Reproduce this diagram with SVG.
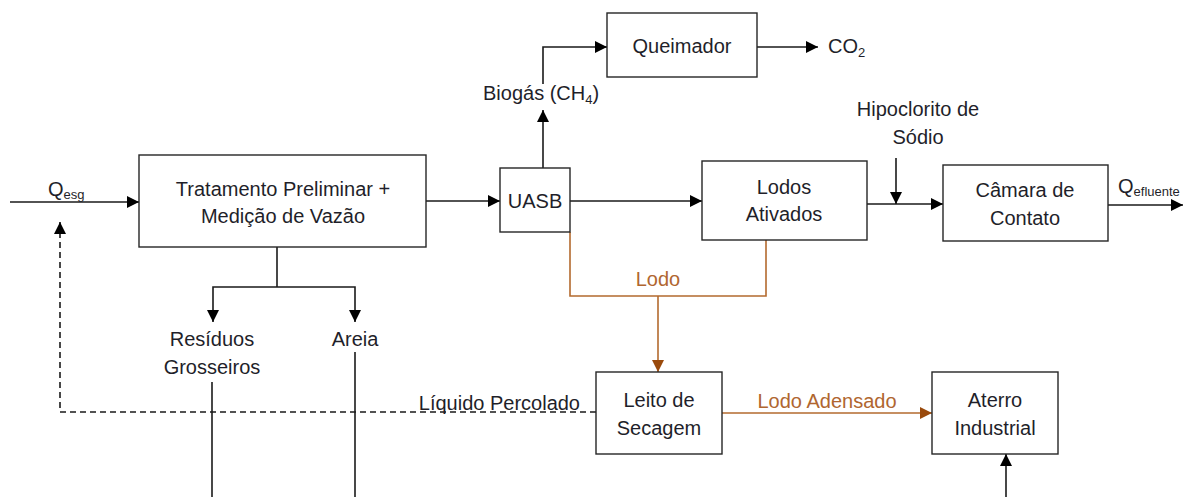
<svg xmlns="http://www.w3.org/2000/svg" width="1188" height="497" viewBox="0 0 1188 497">
<style>
.box{fill:#fff;stroke:#262626;stroke-width:1.4}
.t{font-family:"Liberation Sans",Arial,sans-serif;font-size:20px;fill:#1f1f2a;text-anchor:middle}
.o{fill:#b0662f}
.s{font-size:13px}
.c{fill:none;stroke:#1a1a1a;stroke-width:1.6}
.d{stroke-dasharray:6,4}
.br{fill:none;stroke:#b36a2e;stroke-width:1.6}
</style>
<defs>
<marker id="ak" markerUnits="userSpaceOnUse" markerWidth="12" markerHeight="12" viewBox="0 0 12 12" refX="12" refY="6" orient="auto">
<path d="M0,0 L12,6 L0,12 z" fill="#000"/>
</marker>
<marker id="ao" markerUnits="userSpaceOnUse" markerWidth="12" markerHeight="12" viewBox="0 0 12 12" refX="12" refY="6" orient="auto">
<path d="M0,0 L12,6 L0,12 z" fill="#9a4a0c"/>
</marker>
</defs>
<g id="connectors">
<path class="c" d="M10,202 H139" marker-end="url(#ak)"/>
<path class="c d" d="M596,412 H60 V222" marker-end="url(#ak)"/>
<path class="c" d="M426,201 H500" marker-end="url(#ak)"/>
<path class="c" d="M570,201 H702" marker-end="url(#ak)"/>
<path class="c" d="M867,204 H943" marker-end="url(#ak)"/>
<path class="c" d="M896,158 V204" marker-end="url(#ak)"/>
<path class="c" d="M1108,205 H1183" marker-end="url(#ak)"/>
<path class="c" d="M543,168 V110" marker-end="url(#ak)"/>
<path class="c" d="M543,84 V47 H607" marker-end="url(#ak)"/>
<path class="c" d="M757,47 H818" marker-end="url(#ak)"/>
<path class="c" d="M277,247 V287"/>
<path class="c" d="M277,287 H213 V322" marker-end="url(#ak)"/>
<path class="c" d="M277,287 H355 V322" marker-end="url(#ak)"/>
<path class="c" d="M212,382 V497"/>
<path class="c" d="M355,352 V497"/>
<path class="br" d="M570,232 V296 H766 V240"/>
<path class="br" d="M658,296 V372" marker-end="url(#ao)"/>
<path class="br" d="M722,413 H932" marker-end="url(#ao)"/>
<path class="c" d="M1006,497 V454" marker-end="url(#ak)"/>
</g>
<g id="tratamento">
<rect class="box" x="139" y="155" width="287" height="92"/>
<text class="t" x="283" y="196">Tratamento Preliminar +</text>
<text class="t" x="283" y="223">Medição de Vazão</text>
</g>
<g id="uasb">
<rect class="box" x="500" y="168" width="70" height="64"/>
<text class="t" x="535" y="208">UASB</text>
</g>
<g id="lodos-ativados">
<rect class="box" x="702" y="161" width="165" height="79"/>
<text class="t" x="784" y="194">Lodos</text>
<text class="t" x="784" y="221">Ativados</text>
</g>
<g id="camara">
<rect class="box" x="943" y="165" width="165" height="76"/>
<text class="t" x="1025" y="197">Câmara de</text>
<text class="t" x="1025" y="225">Contato</text>
</g>
<g id="queimador">
<rect class="box" x="607" y="13" width="150" height="64"/>
<text class="t" x="682" y="53">Queimador</text>
</g>
<g id="leito">
<rect class="box" x="596" y="372" width="126" height="82"/>
<text class="t" x="659" y="407">Leito de</text>
<text class="t" x="659" y="435">Secagem</text>
</g>
<g id="aterro">
<rect class="box" x="932" y="372" width="126" height="82"/>
<text class="t" x="995" y="407">Aterro</text>
<text class="t" x="995" y="435">Industrial</text>
</g>
<g id="labels">
<text class="t" x="48" y="196" style="text-anchor:start">Q<tspan class="s" dy="3">esg</tspan></text>
<text class="t" x="1118" y="193" style="text-anchor:start">Q<tspan class="s" dy="3">efluente</tspan></text>
<text class="t" x="828" y="53" style="text-anchor:start">CO<tspan class="s" dy="4">2</tspan></text>
<text class="t" x="483" y="100" style="text-anchor:start">Biogás (CH<tspan class="s" dy="4">4</tspan><tspan dy="-4">)</tspan></text>
<text class="t" x="918" y="116">Hipoclorito de</text>
<text class="t" x="918" y="144">Sódio</text>
<text class="t" x="212" y="346">Resíduos</text>
<text class="t" x="212" y="374">Grosseiros</text>
<text class="t" x="355" y="346">Areia</text>
<text class="t o" x="658" y="286">Lodo</text>
<text class="t" x="580" y="410" style="text-anchor:end">Líquido Percolado</text>
<text class="t o" x="827" y="408">Lodo Adensado</text>
</g>
</svg>
